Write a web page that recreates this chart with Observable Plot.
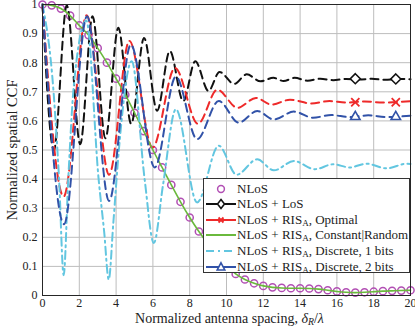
<!DOCTYPE html>
<html><head><meta charset="utf-8">
<script src="https://cdn.jsdelivr.net/npm/d3@7"></script>
<script src="https://cdn.jsdelivr.net/npm/@observablehq/plot@0.6"></script>
<style>
body{margin:0;background:#fff;}
#wrap{position:relative;width:415px;height:329px;font-family:"Liberation Serif",serif;color:#222;overflow:hidden;}
#xlab{position:absolute;left:0;width:415px;top:312px;line-height:14px;text-align:center;font-size:14px;padding-left:44px;box-sizing:border-box;}
#ylab{position:absolute;left:12px;top:150px;line-height:15px;transform:translate(-50%,-50%) rotate(-90deg);white-space:nowrap;font-size:14.5px;}
#legend{position:absolute;left:203px;top:178px;width:207px;height:95px;border:1px solid #333;background:#fff;box-sizing:border-box;font-size:13px;}
.row{position:absolute;left:0;height:15.5px;line-height:15.5px;white-space:nowrap;}
.row svg{position:absolute;left:1px;top:0;}
.row span{position:absolute;left:33px;top:0;}
sub{font-size:70%;vertical-align:-0.25em;line-height:0;}
</style></head><body><div id="wrap"><div id="ylab">Normalized spatial CCF</div><div id="xlab">Normalized antenna spacing, <i>δ<sub>R</sub></i>/<i>λ</i></div></div>
<script>
// ---- data ----
const xTicks = [0,2,4,6,8,10,12,14,16,18,20];
const yTicks = [0,0.1,0.2,0.3,0.4,0.5,0.6,0.7,0.8,0.9,1];
const yTickLabels = ["0","0.1","0.2","0.3","0.4","0.5","0.6","0.7","0.8","0.9","1"];

const nlosX = [0,0.5,1,1.5,2,2.5,3,3.5,4,4.5,5,5.5,6,6.5,7,7.5,8,8.5,9,9.5,10,10.5,11,11.5,12,12.5,13,13.5,14,14.5,15,15.5,16,16.5,17,17.5,18,18.5,19,19.5,20];
const nlosY = [1.0,0.997,0.986,0.962,0.928,0.895,0.85,0.80,0.745,0.69,0.628,0.565,0.50,0.44,0.38,0.322,0.268,0.22,0.177,0.138,0.103,0.074,0.055,0.042,0.033,0.028,0.026,0.025,0.025,0.024,0.022,0.018,0.014,0.011,0.010,0.011,0.013,0.015,0.016,0.017,0.018];

const losX = [0,0.62,1.32,2.05,2.72,3.42,4.12,4.82,5.52,6.23,6.92,7.65,8.3,9.02,9.62,10.42,11.1,11.85,12.55,13.1,13.7,14.4,15.1,15.8,16.5,17.2,17.9,18.6,19.3,20];
const losY = [1.0,0.50,0.997,0.52,0.96,0.54,0.92,0.59,0.885,0.635,0.84,0.668,0.805,0.703,0.768,0.727,0.76,0.736,0.748,0.737,0.748,0.738,0.745,0.74,0.744,0.742,0.745,0.741,0.744,0.743];

const optX = [0,1.15,2.4,3.62,4.72,5.98,7.2,8.45,9.5,10.6,11.6,12.45,13.45,14.6,15.6,16.5,17.5,18.5,20];
const optY = [1.0,0.34,0.963,0.415,0.875,0.508,0.782,0.59,0.707,0.645,0.679,0.656,0.673,0.66,0.668,0.663,0.667,0.663,0.668];

const bit1X = [0,0.6,0.9,1.15,1.4,1.7,2.38,3.05,3.35,3.6,3.85,4.15,4.85,5.55,6.05,6.55,7.25,8.4,9.58,10.55,11.67,12.57,13.66,14.8,15.8,16.7,17.6,18.7,19.8,20];
const bit1Y = [1.0,0.70,0.40,0.07,0.40,0.72,0.945,0.40,0.22,0.055,0.25,0.50,0.805,0.40,0.18,0.38,0.64,0.32,0.515,0.415,0.468,0.43,0.462,0.434,0.451,0.44,0.453,0.437,0.453,0.452];

const bit2X = [0,1.17,2.42,3.62,4.8,6.1,7.25,8.4,9.58,10.67,11.67,12.57,13.66,14.7,15.7,16.7,17.7,18.7,20];
const bit2Y = [1.0,0.245,0.96,0.325,0.862,0.44,0.752,0.537,0.668,0.594,0.634,0.605,0.632,0.611,0.62,0.613,0.619,0.613,0.618];

const markX = [17,19.2];
const losMarkY = [0.745,0.744];
const optMarkY = [0.664,0.664];
const bit2MarkY = [0.614,0.614];

// ---- styles ----
const C = {nlos:"#b24fb4", los:"#111111", opt:"#ee2a2a", green:"#6ab93c", bit1:"#62c6e0", bit2:"#3152a8"};

const pts = (xs, ys) => xs.map((x,i)=>({x, y: ys[i]}));
const nlos = pts(nlosX, nlosY), los = pts(losX, losY), opt = pts(optX, optY),
      b1 = pts(bit1X, bit1Y), b2 = pts(bit2X, bit2Y);

const plot = Plot.plot({
  width: 415, height: 329,
  marginLeft: 42, marginRight: 5, marginTop: 4, marginBottom: 34,
  style: {fontFamily: "Liberation Serif, serif", fontSize: "12px", color: "#222", background: "transparent"},
  x: {domain: [0,20], ticks: xTicks, tickSize: 0, tickPadding: 3, label: null},
  y: {domain: [0,1], ticks: yTicks, tickSize: 0, tickPadding: 5, label: null, tickFormat: (d,i)=>yTickLabels[i]},
  marks: [
    Plot.gridX(xTicks, {stroke: "#bdbdbd", strokeOpacity: 1}),
    Plot.gridY(yTicks, {stroke: "#bdbdbd", strokeOpacity: 1}),
    Plot.dot(nlos, {x:"x", y:"y", r:3.6, stroke: C.nlos, strokeWidth: 1.5, fill: "none"}),
    Plot.line(los, {x:"x", y:"y", curve:"monotone-x", stroke: C.los, strokeWidth: 2, strokeDasharray: "8,5"}),
    Plot.line(opt, {x:"x", y:"y", curve:"monotone-x", stroke: C.opt, strokeWidth: 2, strokeDasharray: "8,5"}),
    Plot.line(nlos, {x:"x", y:"y", curve:"natural", stroke: C.green, strokeWidth: 1.6}),
    Plot.line(b1, {x:"x", y:"y", curve:"monotone-x", stroke: C.bit1, strokeWidth: 2, strokeDasharray: "8,4,2,4"}),
    Plot.line(b2, {x:"x", y:"y", curve:"monotone-x", stroke: C.bit2, strokeWidth: 2, strokeDasharray: "8,5"}),
    Plot.dot(markX, {x: d=>d, y: (d,i)=>losMarkY[i], symbol:"diamond2", r:4.5, stroke: C.los, strokeWidth: 1.6, fill:"#fff"}),
    Plot.dot(markX, {x: d=>d, y: (d,i)=>optMarkY[i], symbol:"times", r:3.8, stroke: C.opt, strokeWidth: 1.8}),
    Plot.dot(markX, {x: d=>d, y: (d,i)=>bit2MarkY[i], symbol:"triangle2", r:4.5, stroke: C.bit2, strokeWidth: 1.6, fill:"#fff"}),
    Plot.frame({stroke: "#262626"})
  ]
});
const wrap = document.getElementById("wrap");
plot.style.position = "absolute"; plot.style.left = "0"; plot.style.top = "0";
wrap.insertBefore(plot, wrap.firstChild);

// ---- legend ----
const legendItems = [
  {label:"NLoS", color:C.nlos, dash:null, line:false, sym:"circle"},
  {label:"NLoS + LoS", color:C.los, dash:null, line:true, sym:"diamond"},
  {label:"NLoS + RIS<sub>A</sub>, Optimal", color:C.opt, dash:null, line:true, sym:"times"},
  {label:"NLoS + RIS<sub>A</sub>, Constant|Random", color:C.green, dash:null, line:true, sym:null},
  {label:"NLoS + RIS<sub>A</sub>, Discrete, 1 bits", color:C.bit1, dash:"8,4,2,4", line:true, sym:null},
  {label:"NLoS + RIS<sub>A</sub>, Discrete, 2 bits", color:C.bit2, dash:null, line:true, sym:"triangle"}
];
const lg = document.createElement("div"); lg.id = "legend";
legendItems.forEach((it, i) => {
  const row = document.createElement("div"); row.className = "row";
  row.style.top = (1.5 + i*15.6) + "px";
  let s = `<svg width="32" height="16" viewBox="0 0 32 16">`;
  if (it.line) s += `<line x1="1" x2="31" y1="8" y2="8" stroke="${it.color}" stroke-width="2" ${it.dash?`stroke-dasharray="${it.dash}"`:""}/>`;
  if (it.sym==="circle") s += `<circle cx="16" cy="8" r="3.4" fill="none" stroke="${it.color}" stroke-width="1.5"/>`;
  if (it.sym==="diamond") s += `<path d="M16,3.5L19.5,8L16,12.5L12.5,8Z" fill="#fff" stroke="${it.color}" stroke-width="1.6"/>`;
  if (it.sym==="times") s += `<path d="M13.5,5.5L18.5,10.5M18.5,5.5L13.5,10.5" stroke="${it.color}" stroke-width="1.8"/>`;
  if (it.sym==="triangle") s += `<path d="M16,3.8L19.8,11L12.2,11Z" fill="#fff" stroke="${it.color}" stroke-width="1.6"/>`;
  s += `</svg>`;
  row.innerHTML = s + `<span>${it.label}</span>`;
  lg.appendChild(row);
});
wrap.appendChild(lg);
</script>
</body></html>
